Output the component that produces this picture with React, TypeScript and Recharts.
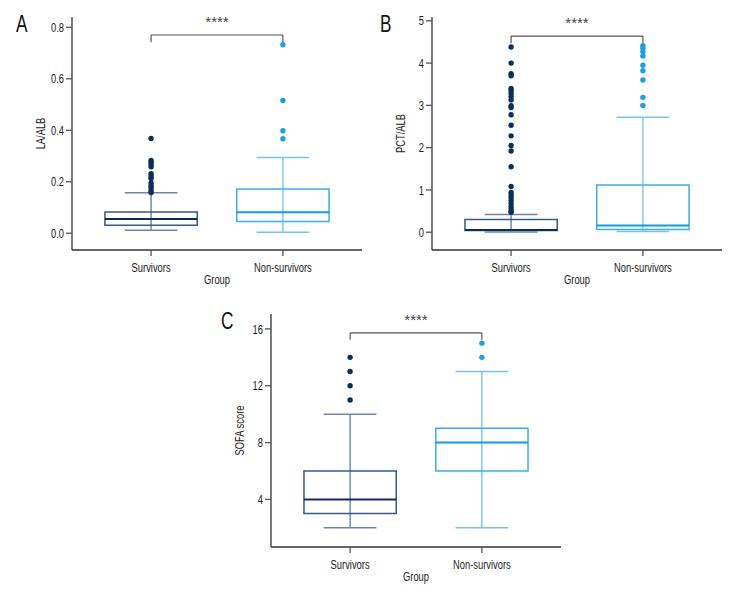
import { ComposedChart, XAxis, YAxis, Scatter, ReferenceLine, ReferenceArea, ReferenceDot, Label } from 'recharts';

const groups = ['Survivors', 'Non-survivors'];

// box stats per group: [lower whisker, Q1, median, Q3, upper whisker]
const laAlbSurvivors = [0.012, 0.031, 0.055, 0.083, 0.157];
const laAlbNonSurvivors = [0.004, 0.046, 0.082, 0.172, 0.294];
const laAlbOutSurvivors = [0.368, 0.283, 0.275, 0.266, 0.258, 0.231, 0.222, 0.213, 0.195, 0.185, 0.176, 0.164, 0.158];
const laAlbOutNonSurvivors = [0.732, 0.516, 0.398, 0.367];
const laAlbTicks = [0, 0.2, 0.4, 0.6, 0.8];

const pctAlbSurvivors = [0.005, 0.04, 0.055, 0.3, 0.417];
const pctAlbNonSurvivors = [0.02, 0.064, 0.158, 1.12, 2.72];
const pctAlbOutSurvivors = [4.38, 4.0, 3.75, 3.7, 3.4, 3.35, 3.28, 3.21, 3.13, 2.99, 2.95, 2.78, 2.53, 2.28, 2.05, 1.92, 1.55, 1.08, 0.94, 0.88, 0.82, 0.75, 0.68, 0.61, 0.55, 0.5, 0.47];
const pctAlbOutNonSurvivors = [4.41, 4.35, 4.27, 4.17, 3.95, 3.82, 3.6, 3.19, 3.0];
const pctAlbTicks = [0, 1, 2, 3, 4, 5];

const sofaSurvivors = [2, 3, 4, 6, 10];
const sofaNonSurvivors = [2, 6, 8, 9, 13];
const sofaOutSurvivors = [14, 13, 12, 11];
const sofaOutNonSurvivors = [15, 14];
const sofaTicks = [4, 8, 12, 16];

// no narrow font installed, so squeeze Liberation Sans horizontally
const FONT = "'Liberation Sans', Arial, sans-serif";
const SQ = 0.72;

const dark = { box: '#34598a', median: '#0b2d5c', whisker: '#2f5383', cap: '#6b86a8', dot: '#0a2f5c' };
const light = { box: '#3aaeea', median: '#139be0', whisker: '#3cb0ea', cap: '#72c6ee', dot: '#1aa0e6' };

function boxMarks(stats: number[], x: number, c: any, key: string) {
  const [lo, q1, med, q3, hi] = stats;
  const half = 0.35;
  const cap = 0.2;
  return [
    <ReferenceLine key={key + 'w'} segment={[{ x, y: lo }, { x, y: hi }]} stroke={c.whisker} strokeWidth={1} ifOverflow="visible" />,
    <ReferenceLine key={key + 'cl'} segment={[{ x: x - cap, y: lo }, { x: x + cap, y: lo }]} stroke={c.cap} strokeWidth={1.5} ifOverflow="visible" />,
    <ReferenceLine key={key + 'ch'} segment={[{ x: x - cap, y: hi }, { x: x + cap, y: hi }]} stroke={c.cap} strokeWidth={1.5} ifOverflow="visible" />,
    <ReferenceArea key={key + 'b'} x1={x - half} x2={x + half} y1={q1} y2={q3} fill="none" fillOpacity={0} stroke={c.box} strokeWidth={1.5} strokeOpacity={1} ifOverflow="visible" />,
    <ReferenceLine key={key + 'm'} segment={[{ x: x - half, y: med }, { x: x + half, y: med }]} stroke={c.median} strokeWidth={2} ifOverflow="visible" />,
  ];
}

function bracketMarks(top: number, drop: number, key: string) {
  return [
    <ReferenceLine key={key + 'h'} segment={[{ x: 1, y: top }, { x: 2, y: top }]} stroke="#555" strokeWidth={1.2} ifOverflow="visible" />,
    <ReferenceLine key={key + 'l'} segment={[{ x: 1, y: top }, { x: 1, y: drop }]} stroke="#555" strokeWidth={1.2} ifOverflow="visible" />,
    <ReferenceLine key={key + 'r'} segment={[{ x: 2, y: top }, { x: 2, y: drop }]} stroke="#555" strokeWidth={1.2} ifOverflow="visible" />,
    <ReferenceDot key={key + 's'} x={1.5} y={top} r={0} fill="none" stroke="none" ifOverflow="visible">
      <Label value="****" position="top" offset={8} fill="#444" fontSize={15} fontFamily={FONT} />
    </ReferenceDot>,
  ];
}

function XTick(p: any) {
  return (
    <g transform={`translate(${p.x},${p.y})`}>
      <text transform={`scale(${SQ},1)`} textAnchor="middle" dy="0.71em" fontFamily={FONT} fontSize={13} fill="#222">
        {groups[p.payload.value - 1]}
      </text>
    </g>
  );
}

function makeYTick(fmt: (v: number) => string) {
  return (p: any) => (
    <g transform={`translate(${p.x},${p.y})`}>
      <text transform={`scale(${SQ},1)`} textAnchor="end" dy="0.355em" fontFamily={FONT} fontSize={13} fill="#222">
        {fmt(p.payload.value)}
      </text>
    </g>
  );
}

function Panel(props: any) {
  const { letter, left, top, letterLeft, letterTop, yLabel, domain, ticks, fmt, stats, outs, bracket } = props;
  return (
    <div style={{ position: 'absolute', left, top, width: 380, height: 300 }}>
      <div
        style={{
          position: 'absolute', left: letterLeft, top: letterTop, fontFamily: FONT, fontSize: 23,
          lineHeight: '23px', color: '#111', transform: 'scaleX(0.75)', transformOrigin: 'left top',
        }}
      >
        {letter}
      </div>
      <ComposedChart width={380} height={300} margin={{ top: 17, right: 18, left: 0, bottom: 0 }}>
        <XAxis
          type="number"
          dataKey="x"
          domain={[0.4, 2.6]}
          ticks={[1, 2]}
          allowDataOverflow
          height={50}
          tick={<XTick />}
          tickMargin={7}
          stroke="#333"
          strokeWidth={1.3}
          tickLine={{ stroke: '#555' }}
        >
          <Label
            content={({ viewBox }: any) => (
              <g transform={`translate(${viewBox.x + viewBox.width / 2},${viewBox.y + 34})`}>
                <text transform={`scale(${SQ},1)`} textAnchor="middle" fontFamily={FONT} fontSize={13} fill="#222">Group</text>
              </g>
            )}
          />
        </XAxis>
        <YAxis
          type="number"
          dataKey="y"
          domain={domain}
          ticks={ticks}
          allowDataOverflow
          width={72}
          tick={makeYTick(fmt)}
          stroke="#333"
          strokeWidth={1.3}
          tickLine={{ stroke: '#555' }}
        >
          <Label
            content={({ viewBox }: any) => (
              <g transform={`translate(${viewBox.x + 40},${viewBox.y + viewBox.height / 2}) rotate(-90)`}>
                <text transform={`scale(${SQ},1)`} textAnchor="middle" dy="0.35em" fontFamily={FONT} fontSize={13} fill="#222">{yLabel}</text>
              </g>
            )}
          />
        </YAxis>
        {boxMarks(stats[0], 1, dark, 's')}
        {boxMarks(stats[1], 2, light, 'n')}
        <Scatter
          data={outs[0].map((v: number) => ({ x: 1, y: v }))}
          isAnimationActive={false}
          shape={(p: any) => <circle cx={p.cx} cy={p.cy} r={2.7} fill={dark.dot} />}
        />
        <Scatter
          data={outs[1].map((v: number) => ({ x: 2, y: v }))}
          isAnimationActive={false}
          shape={(p: any) => <circle cx={p.cx} cy={p.cy} r={2.7} fill={light.dot} />}
        />
        {bracketMarks(bracket[0], bracket[1], 'br')}
      </ComposedChart>
    </div>
  );
}

export default function App() {
  return (
    <div style={{ position: 'absolute', left: 0, top: 0, width: 756, height: 600, background: '#fff' }}>
      <Panel
        letter="A" left={0} top={0} letterLeft={16} letterTop={13}
        yLabel="LA/ALB" domain={[-0.065, 0.84]} ticks={laAlbTicks} fmt={(v: number) => v.toFixed(1)}
        stats={[laAlbSurvivors, laAlbNonSurvivors]} outs={[laAlbOutSurvivors, laAlbOutNonSurvivors]}
        bracket={[0.77, 0.742]}
      />
      <Panel
        letter="B" left={360} top={0} letterLeft={20} letterTop={13}
        yLabel="PCT/ALB" domain={[-0.42, 5.09]} ticks={pctAlbTicks} fmt={(v: number) => String(v)}
        stats={[pctAlbSurvivors, pctAlbNonSurvivors]} outs={[pctAlbOutSurvivors, pctAlbOutNonSurvivors]}
        bracket={[4.64, 4.47]}
      />
      <Panel
        letter="C" left={199} top={297} letterLeft={22} letterTop={13}
        yLabel="SOFA score" domain={[0.65, 17.05]} ticks={sofaTicks} fmt={(v: number) => String(v)}
        stats={[sofaSurvivors, sofaNonSurvivors]} outs={[sofaOutSurvivors, sofaOutNonSurvivors]}
        bracket={[15.72, 15.23]}
      />
    </div>
  );
}
